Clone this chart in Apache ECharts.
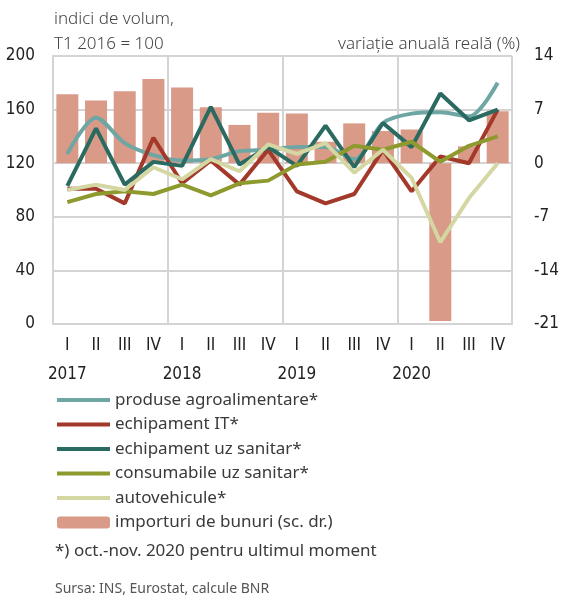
<!DOCTYPE html>
<html>
<head>
<meta charset="utf-8">
<script src="https://cdn.jsdelivr.net/npm/echarts@6/dist/echarts.min.js"></script>
<style>
  html, body { margin: 0; padding: 0; background: #fff; }
  #chart { width: 562px; height: 601px; }
</style>
</head>
<body>
<div id="chart"></div>
<script>
// trimestre 2017-2020
var years = ['2017', '2018', '2019', '2020'];
var quarters = ['I', 'II', 'III', 'IV'];
var categories = [];
years.forEach(function (y) {
  quarters.forEach(function (q) { categories.push(y + ' ' + q); });
});

// indici de volum (sc. st.)
var agro = [127, 154, 135, 126, 122, 123, 129, 130, 132, 132, 123, 150, 157, 158, 155, 180];
var echipIT = [101, 101, 90, 139, 105, 122, 104, 130, 99, 90, 97, 130, 99, 125, 120, 160];
var echipSanitar = [103, 146, 104, 121, 118, 162, 119, 132, 118, 148, 117, 150, 132, 172, 152, 160];
var consumSanitar = [91, 97, 99, 97, 104, 96, 105, 107, 119, 121, 133, 130, 136, 121, 133, 140];
var autovehicule = [100, 104, 100, 117, 108, 123, 114, 134, 127, 135, 113, 130, 109, 61, 94, 120];

// importuri de bunuri, variatie anuala (%) (sc. dr.)
var importuri = [9.0, 8.2, 9.4, 11.0, 9.9, 7.3, 5.0, 6.6, 6.5, 2.8, 5.2, 4.2, 4.4, -20.6, 2.2, 6.8];

var gridColor = '#d4d4d4';
var numFont = '"Liberation Sans Narrow", "DejaVu Sans Condensed", sans-serif';
var textFont = '"Noto Sans", "Open Sans", sans-serif';

var chart = echarts.init(document.getElementById('chart'));

function lineSeries(name, data, color, smooth) {
  return {
    name: name,
    type: 'line',
    data: data,
    xAxisIndex: 0,
    yAxisIndex: 0,
    symbol: 'none',
    smooth: smooth || false,
    lineStyle: { color: color, width: 4 },
    itemStyle: { color: color },
    z: 3
  };
}

// legenda: liniile fara cerc in mijloc
var lineNames = ['produse agroalimentare*', 'echipament IT*', 'echipament uz sanitar*',
  'consumabile uz sanitar*', 'autovehicule*'];
var legendData = lineNames.map(function (n) {
  return { name: n, itemStyle: { opacity: 0 } };
});
legendData.push({ name: 'importuri de bunuri (sc. dr.)' });

var option = {
  animation: false,
  grid: { left: 53, right: 44, top: 56, bottom: 277, containLabel: false },
  legend: {
    orient: 'vertical',
    left: 55,
    top: 390,
    padding: 0,
    itemWidth: 53,
    itemHeight: 12,
    itemGap: 4.5,
    lineStyle: { width: 4 },
    textStyle: { fontFamily: textFont, fontSize: 17, lineHeight: 20, color: '#3a3a3a', padding: [0, 0, 0, 0] },
    data: legendData
  },
  xAxis: [{
    type: 'category',
    data: categories,
    axisTick: { show: false },
    axisLine: { lineStyle: { color: gridColor, width: 2 } },
    axisLabel: {
      interval: 0,
      margin: 7,
      lineHeight: 29,
      fontFamily: numFont,
      fontSize: 17,
      color: '#222',
      formatter: function (v, i) {
        var p = v.split(' ');
        return i % 4 === 0 ? p[1] + '\n' + p[0] : p[1];
      }
    }
  }, {
    type: 'value',
    min: 0,
    max: 16,
    interval: 4,
    position: 'bottom',
    axisLine: { show: false },
    axisTick: { show: false },
    axisLabel: { show: false },
    splitLine: { show: true, lineStyle: { color: gridColor, width: 2 } }
  }],
  yAxis: [{
    type: 'value',
    min: 0,
    max: 200,
    interval: 40,
    axisLine: { show: true, lineStyle: { color: gridColor, width: 2 } },
    axisTick: { show: false },
    splitLine: { lineStyle: { color: gridColor, width: 2 } },
    axisLabel: { margin: 18, fontFamily: numFont, fontSize: 17, color: '#222' }
  }, {
    type: 'value',
    min: -21,
    max: 14,
    interval: 7,
    position: 'right',
    axisLine: { show: false },
    axisTick: { show: false },
    splitLine: { show: false },
    axisLabel: { margin: 22, fontFamily: numFont, fontSize: 17, color: '#222' }
  }],
  series: [
    {
      name: 'importuri de bunuri (sc. dr.)',
      type: 'bar',
      data: importuri,
      xAxisIndex: 0,
      yAxisIndex: 1,
      barWidth: 22,
      itemStyle: { color: '#d99a88' },
      z: 2
    },
    lineSeries('produse agroalimentare*', agro, '#6ea6a4', 0.3),
    lineSeries('echipament IT*', echipIT, '#a3392a'),
    lineSeries('echipament uz sanitar*', echipSanitar, '#2a6a60'),
    lineSeries('consumabile uz sanitar*', consumSanitar, '#8e9a2e'),
    lineSeries('autovehicule*', autovehicule, '#d4d7a2')
  ],
  graphic: [
    { type: 'text', left: 54, top: 11, style: { text: 'indici de volum,', font: '300 17px ' + textFont, fill: '#444' } },
    { type: 'text', left: 54, top: 36, style: { text: 'T1 2016 = 100', font: '300 17px ' + textFont, fill: '#444' } },
    { type: 'text', right: 42, top: 36, style: { text: 'variație anuală reală (%)', font: '300 17px ' + textFont, fill: '#444' } },
    { type: 'text', left: 55, top: 543, style: { text: '*) oct.-nov. 2020 pentru ultimul moment', font: '17px ' + textFont, fill: '#3a3a3a' } },
    { type: 'text', left: 55, top: 582, style: { text: 'Sursa: INS, Eurostat, calcule BNR', font: '14px ' + textFont, fill: '#555' } }
  ]
};

chart.setOption(option);
</script>
</body>
</html>
